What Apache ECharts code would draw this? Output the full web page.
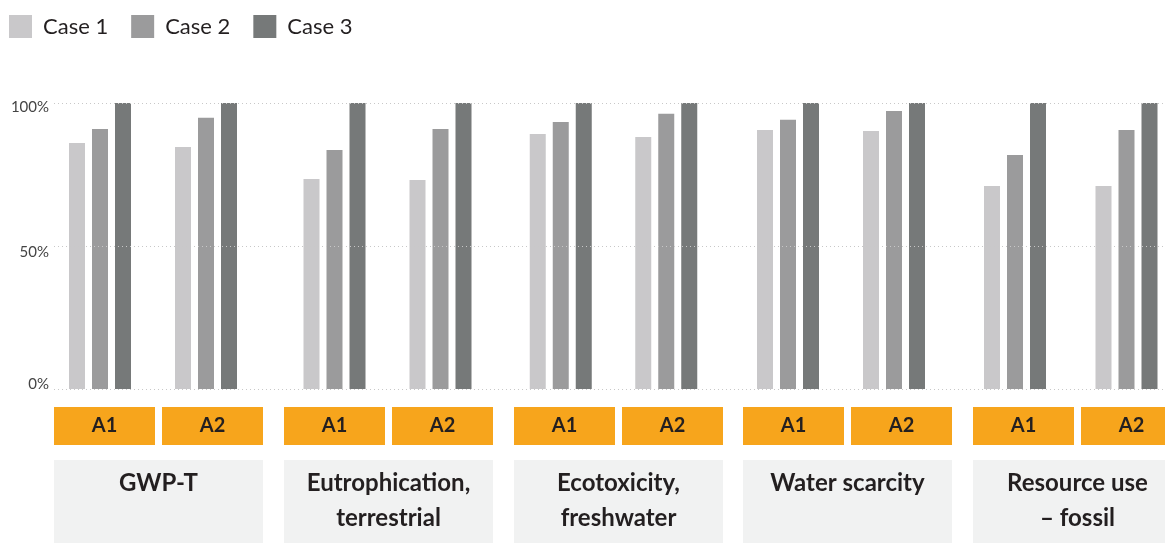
<!DOCTYPE html>
<html><head><meta charset="utf-8">
<script src="https://cdn.jsdelivr.net/npm/echarts@6/dist/echarts.min.js"></script>
<style>html,body{margin:0;padding:0;background:#fff}#c{width:1165px;height:544px}</style>
</head><body><div id="c"></div>
<script>
// ---- data ----
const groups = ['GWP-T', 'Eutrophication,\nterrestrial', 'Ecotoxicity,\nfreshwater', 'Water scarcity', 'Resource use\n– fossil'];
const variants = ['A1', 'A2'];
const seriesNames = ['Case 1', 'Case 2', 'Case 3'];
// values per group: [A1, A2] in %
const case1 = [[86.0, 84.6], [73.4, 73.1], [89.2, 88.1], [90.6, 90.2], [71.0, 71.0]];
const case2 = [[90.9, 94.8], [83.6, 90.9], [93.4, 96.2], [94.1, 97.2], [81.8, 90.6]];
const case3 = [[100, 100], [100, 100], [100, 100], [100, 100], [100, 100]];
const yTickLabels = ['0%', '50%', '100%'];

// ---- layout / style ----
const colors = ['#c9c8ca', '#9b9b9c', '#767979'];
const FONT = 'Lato';
const plotTop = 103, plotHeight = 286;
const barGrids = [
  { left: 47, width: 212 }, { left: 281.5, width: 212 }, { left: 508, width: 211 },
  { left: 735, width: 212 }, { left: 959.25, width: 223 }
];
const boxLefts = [54, 284, 514, 743, 973];
const yLabStyle = { fontFamily: FONT, fontSize: 15, color: '#444' };

const grid = [{ left: 54, right: 0, top: plotTop, height: plotHeight, outerBoundsMode: 'none' }];
const xAxis = [{ gridIndex: 0, type: 'value', show: false }];
const yAxis = [{
  gridIndex: 0, type: 'value', min: 0, max: 100, interval: 50, z: 3,
  axisLine: { show: false }, axisTick: { show: false },
  axisLabel: { margin: 5, ...yLabStyle,
    formatter: v => { const k = Math.round(v / 50); return '{t' + k + '|' + yTickLabels[k] + '}'; },
    rich: {
      t0: { ...yLabStyle, padding: [0, 0, 10, 0] },
      t1: { ...yLabStyle, padding: [12, 0, 0, 0] },
      t2: { ...yLabStyle, padding: [8, 0, 0, 0] }
    } },
  splitLine: { show: true, lineStyle: { color: '#c8c8c8', type: [1, 3], width: 1 } }
}];
const series = [];
const data = [case1, case2, case3];

barGrids.forEach((g, i) => {
  const gi = grid.length;
  grid.push({ left: g.left, width: g.width, top: plotTop, height: plotHeight, outerBoundsMode: 'none' });
  const xi = xAxis.length;
  xAxis.push({ gridIndex: gi, type: 'category', data: variants, show: false });
  const yi = yAxis.length;
  yAxis.push({ gridIndex: gi, type: 'value', min: 0, max: 100, show: false, splitLine: { show: false } });
  seriesNames.forEach((nm, s) => {
    series.push({
      name: nm, type: 'bar', xAxisIndex: xi, yAxisIndex: yi,
      data: data[s][i], barWidth: 16, barGap: '43.75%',
      itemStyle: { color: colors[s] }
    });
  });
});

boxLefts.forEach((bl, i) => {
  const gi = grid.length;
  grid.push({ left: bl - 3.5, width: 216, top: 389, height: 1, outerBoundsMode: 'none' });
  xAxis.push({
    gridIndex: gi, type: 'category', data: variants, position: 'bottom',
    axisLine: { show: false }, axisTick: { show: false },
    axisLabel: { interval: 0, margin: 17, backgroundColor: '#f7a51c', width: 101, height: 38,
      lineHeight: 38, align: 'center', verticalAlign: 'top', fontFamily: FONT, fontSize: 20,
      fontWeight: 'bold', color: '#231f20' }
  });
  xAxis.push({
    gridIndex: gi, type: 'category', data: [groups[i]], position: 'bottom',
    axisLine: { show: false }, axisTick: { show: false },
    axisLabel: { interval: 0, margin: 70, backgroundColor: '#f1f2f2', width: 209, height: 77,
      padding: [6, 0, 0, 0], lineHeight: 35, align: 'center', verticalAlign: 'top',
      fontFamily: FONT, fontSize: 24, fontWeight: 'bold', color: '#231f20' }
  });
  yAxis.push({ gridIndex: gi, type: 'value', show: false, splitLine: { show: false } });
});

const chart = echarts.init(document.getElementById('c'), null, { renderer: 'canvas' });
chart.setOption({
  animation: false,
  legend: {
    data: seriesNames, left: 4, top: 10, itemWidth: 23, itemHeight: 23, itemGap: 23,
    icon: 'rect',
    textStyle: { fontFamily: FONT, fontSize: 22, color: '#231f20', padding: [0, 0, 0, 6] }
  },
  grid, xAxis, yAxis, series
});
</script>
</body></html>
